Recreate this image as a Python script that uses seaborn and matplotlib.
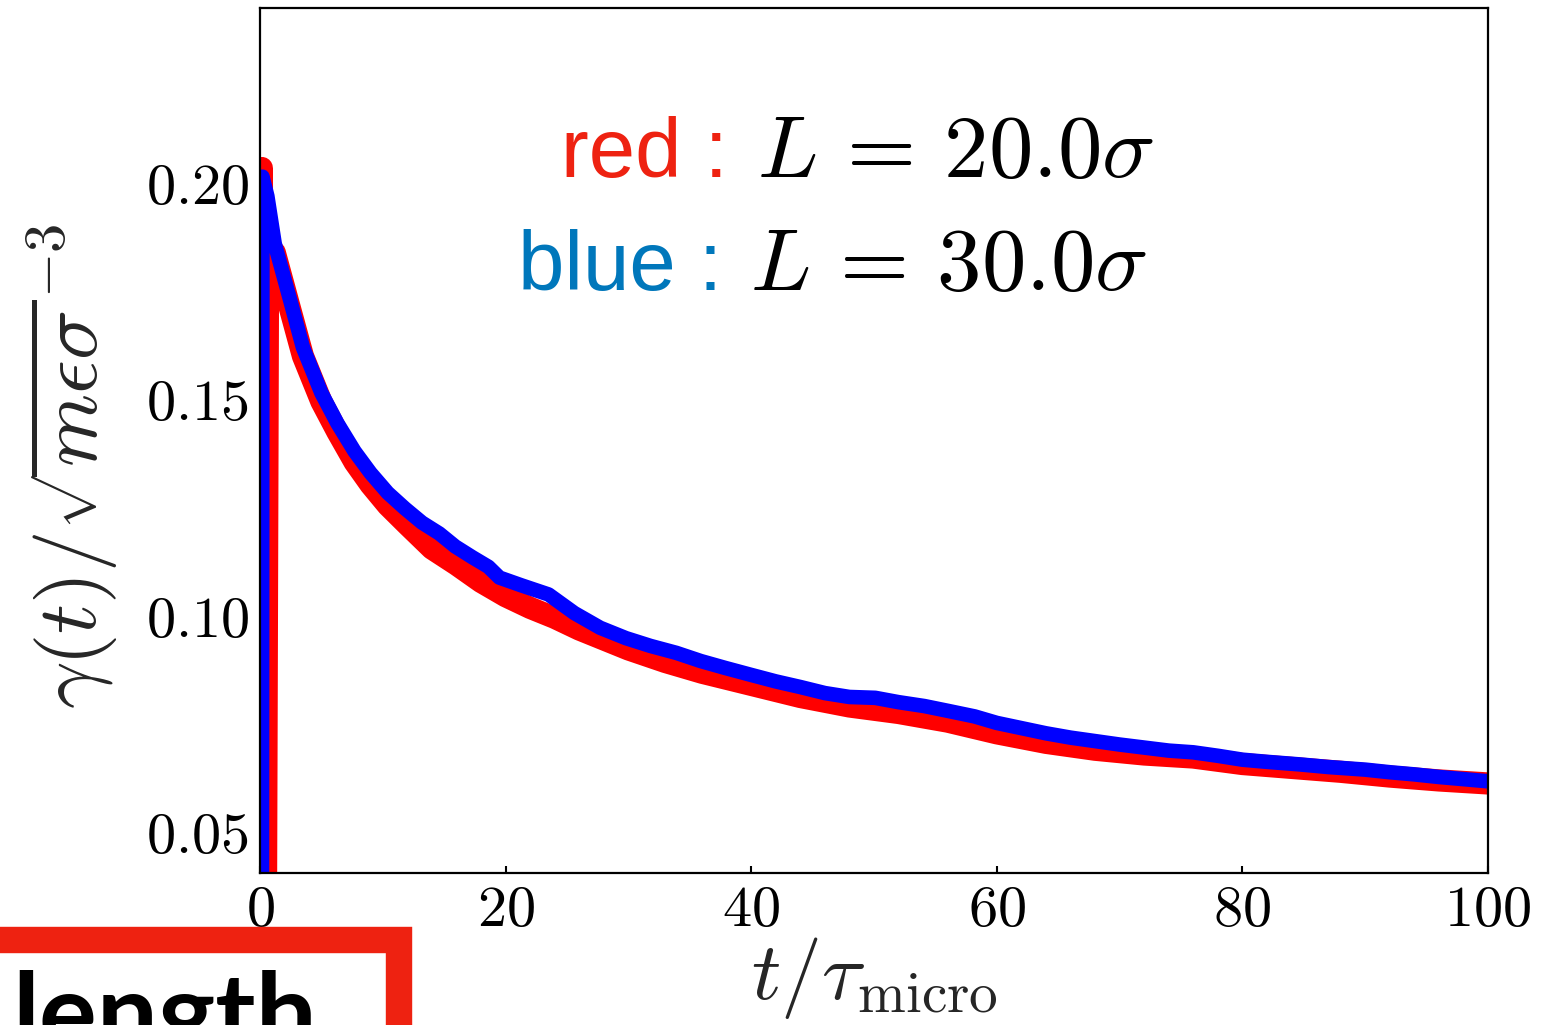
import matplotlib
matplotlib.use("Agg")
import matplotlib.pyplot as plt
import seaborn as sns
import pandas as pd
from matplotlib.patches import Rectangle
from matplotlib.ticker import FuncFormatter

# data
t_red = [0.0, 0.15, 0.45, 0.65, 1.2, 2.3, 3.5, 5, 6.3, 7.7, 9, 10.4, 12, 14, 16, 18, 20, 22, 24, 26,
         28, 30, 33, 36, 40, 44, 48, 52, 56, 60, 64, 68, 72, 76, 80, 84, 88, 92, 96, 100]
g_red = [0.0, 0.2035, 0.0, 0.176, 0.184, 0.1725, 0.160, 0.1495, 0.1425, 0.1355,
         0.1303, 0.1255, 0.1210, 0.1155, 0.1118, 0.1078, 0.1045, 0.1018, 0.0995, 0.0968,
         0.0945, 0.0922, 0.0893, 0.0868, 0.0840, 0.0812, 0.0790, 0.0775, 0.0755, 0.0728,
         0.0706, 0.0690, 0.0679, 0.0672, 0.0657, 0.0648, 0.0639, 0.0628, 0.0619, 0.0612]

t_blue = [0.15, 0.2, 0.6, 1.2, 2.3, 3.5, 5.0, 6.3, 7.7, 9.0,
          10.4, 11.8, 13.2, 14.6, 15.9, 17.3, 18.6, 19.5, 21.3, 23.5,
          25.6, 27.7, 29.8, 31.8, 33.9, 35.9, 37.9, 40.0, 42.0, 44.0,
          46, 48, 50.1, 52, 54.1, 56, 58.2, 60, 62, 64,
          66, 68, 70, 72, 74, 76, 78, 80, 82, 84.7,
          87, 90, 92, 94, 96, 98, 100]
g_blue = [0.0, 0.2015, 0.197, 0.186, 0.1746, 0.162, 0.1515, 0.1445, 0.138, 0.133,
          0.1284, 0.1248, 0.1215, 0.119, 0.116, 0.1135, 0.1113, 0.1088, 0.107, 0.1049,
          0.1006, 0.0972, 0.0948, 0.093, 0.0914, 0.0895, 0.0879, 0.0863, 0.0848, 0.0835,
          0.0821, 0.0812, 0.0810, 0.0800, 0.0791, 0.0780, 0.0767, 0.0752, 0.0740, 0.0728,
          0.0718, 0.0710, 0.0702, 0.0695, 0.0688, 0.0684, 0.0676, 0.0667, 0.0662, 0.0656,
          0.0650, 0.0644, 0.0638, 0.0633, 0.0627, 0.0622, 0.0617]

x_ticks = [0, 20, 40, 60, 80, 100]
y_ticks = [0.05, 0.10, 0.15, 0.20]

sns.set_style("ticks")
plt.rcParams["mathtext.fontset"] = "cm"
plt.rcParams["font.family"] = ["Liberation Sans", "DejaVu Sans"]

df_red = pd.DataFrame({"t": t_red, "g": g_red})
df_blue = pd.DataFrame({"t": t_blue, "g": g_blue})

fig = plt.figure(figsize=(15.54, 10.25), dpi=100)
ax = fig.add_axes([0.1673, 0.1483, 0.7902, 0.8439])

sns.lineplot(data=df_red, x="t", y="g", ax=ax, color="#ff0000", lw=16,
             estimator=None, sort=False, solid_capstyle="round", solid_joinstyle="round")
sns.lineplot(data=df_blue, x="t", y="g", ax=ax, color="#0000ff", lw=10.5,
             estimator=None, sort=False, solid_capstyle="round", solid_joinstyle="round")

ax.set_xlim(0, 100)
ax.set_ylim(0.0405, 0.2405)
ax.set_xticks(x_ticks)
ax.set_yticks(y_ticks)
ax.xaxis.set_major_formatter(FuncFormatter(lambda v, p: r"$%d$" % v))
ax.yaxis.set_major_formatter(FuncFormatter(lambda v, p: r"$%.2f$" % v))
ax.tick_params(direction="in", length=5, width=1.5, labelsize=42, pad=8, colors="black")
for s in ax.spines.values():
    s.set_linewidth(1.6)
    s.set_color("black")

ax.set_xlabel(r"$t/\tau_{\mathrm{micro}}$", fontsize=59, labelpad=-2)
ax.set_ylabel(r"$\gamma(t)/\sqrt{m\epsilon\sigma}^{-3}$", fontsize=60)
ax.yaxis.set_label_coords(-0.113, 0.47)

# annotation
ax.text(0.3811, 0.8046, "red :", color="#ee2211", fontsize=60, ha="right", va="baseline",
        transform=ax.transAxes)
ax.text(0.4047, 0.8046, r"$L\,=\,20.0\sigma$", color="black", fontsize=64, ha="left", va="baseline",
        transform=ax.transAxes)
ax.text(0.3762, 0.674, "blue :", color="#0077bb", fontsize=60, ha="right", va="baseline",
        transform=ax.transAxes)
ax.text(0.399, 0.674, r"$L\,=\,30.0\sigma$", color="black", fontsize=64, ha="left", va="baseline",
        transform=ax.transAxes)

# cropped overlay box at the bottom left
fig.patches.append(Rectangle((-0.05, -0.2), 0.3068, 0.2829, transform=fig.transFigure,
                             fill=False, edgecolor="#ee2211", lw=19, zorder=5))
fig.text(0.008, -0.024, "length", fontsize=78, fontweight="bold", family=["Lato", "DejaVu Sans"],
         color="black", ha="left", va="baseline")

fig.savefig("out.png", dpi=100, facecolor="white")
